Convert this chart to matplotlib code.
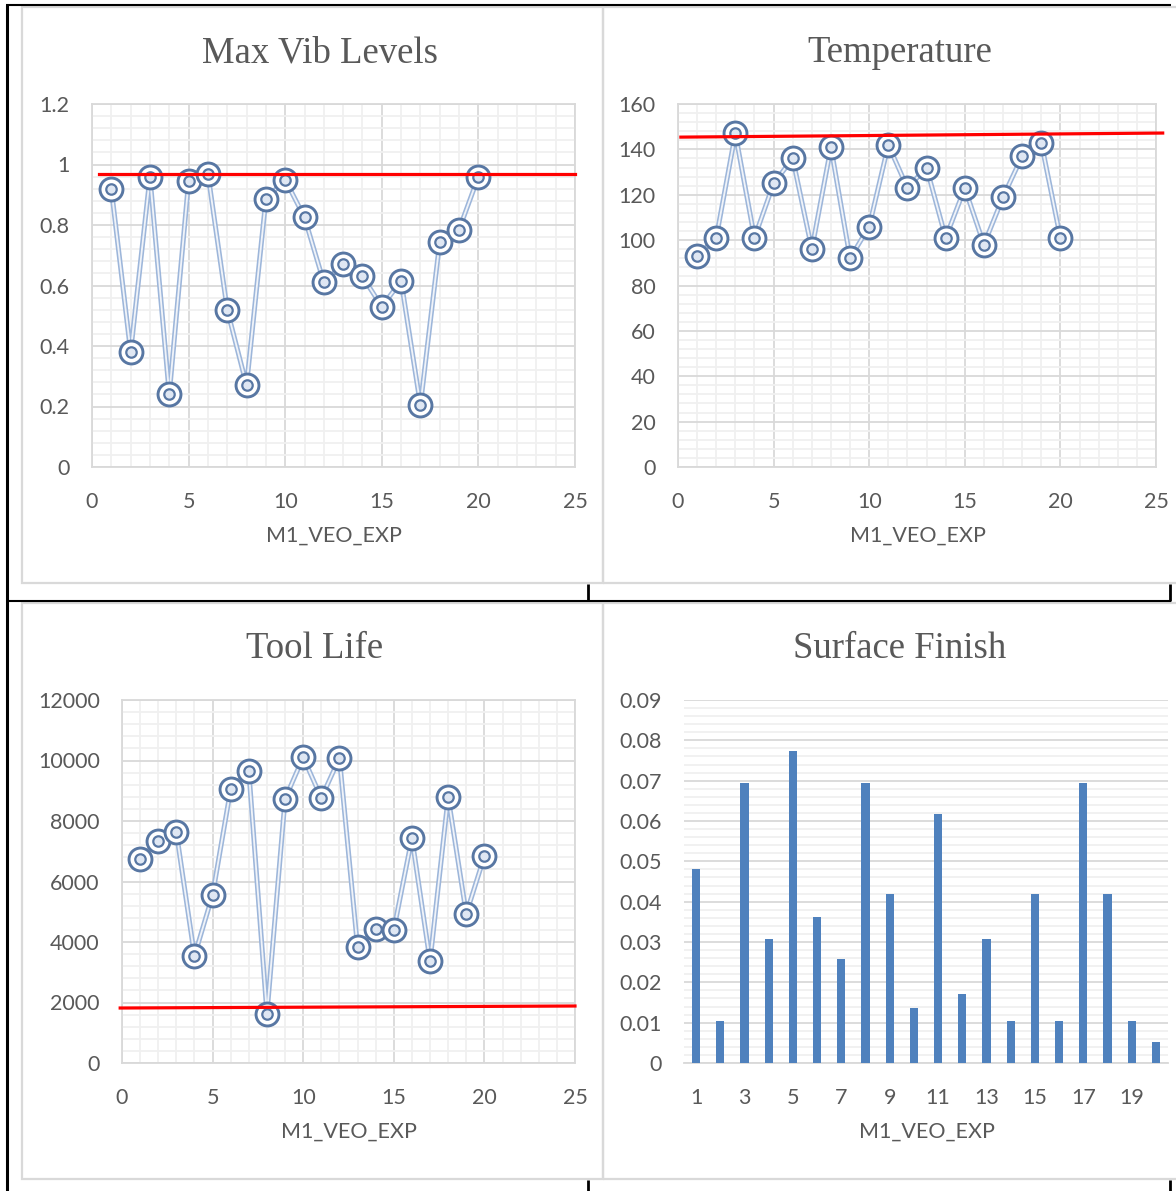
import matplotlib
matplotlib.use("Agg")
import matplotlib.pyplot as plt
from matplotlib.lines import Line2D
from matplotlib.patches import Rectangle
import numpy as np

# data
runs = list(range(1, 21))
max_vib = [0.92, 0.38, 0.96, 0.24, 0.945, 0.97, 0.52, 0.27, 0.885, 0.95,
           0.825, 0.61, 0.67, 0.63, 0.53, 0.615, 0.205, 0.745, 0.785, 0.96]
temperature = [93, 101, 147, 101, 125, 136, 96, 141, 92, 106,
               142, 123, 132, 101, 123, 98, 119, 137, 143, 101]
tool_life = [6740, 7340, 7630, 3540, 5560, 9060, 9650, 1620, 8730, 10110,
             8760, 10080, 3830, 4430, 4400, 7440, 3370, 8790, 4930, 6840]
surface_finish = [0.048, 0.0103, 0.0693, 0.0307, 0.0773, 0.0361, 0.0258, 0.0693, 0.0419, 0.0136,
                  0.0617, 0.0172, 0.0307, 0.0103, 0.0419, 0.0103, 0.0693, 0.0419, 0.0103, 0.0052]

# red limit lines (x start, x end, y start, y end)
vib_limit = (0.36, 25.0, 0.968, 0.968)
temp_limit = (0.15, 25.35, 145.4, 147.2)
life_limit = (-0.1, 25.0, 1818, 1884)

W, H = 1176, 1191
TXT = "#595959"
GRID_MAJ = "#d9d9d9"
GRID_MIN = "#f0f0f0"
LINE_C = "#9db6da"
MARK_C = "#5877a3"
BAR_C = "#4f81bd"
SANS = ["Lato", "DejaVu Sans"]
SERIF = ["Liberation Serif", "DejaVu Serif"]
TICK_FS = 15.5

fig = plt.figure(figsize=(W / 100, H / 100), dpi=100)


def px_axes(x0, y0, x1, y1):
    return fig.add_axes([x0 / W, 1 - y1 / H, (x1 - x0) / W, (y1 - y0) / H])


def fig_line(x0, y0, x1, y1, lw, color="black"):
    fig.add_artist(Line2D([x0 / W, x1 / W], [1 - y0 / H, 1 - y1 / H],
                          color=color, lw=lw, transform=fig.transFigure,
                          solid_capstyle="butt"))


def style_axes(ax, ymax, ymaj, ymin, xgrid=True):
    ax.set_facecolor("white")
    ax.set_ylim(0, ymax)
    ax.set_yticks(np.arange(0, ymax + ymaj / 2, ymaj))
    ax.set_yticks(np.arange(0, ymax + ymin / 2, ymin), minor=True)
    ax.grid(which="major", axis="y", color=GRID_MAJ, lw=1.3)
    ax.grid(which="minor", axis="y", color=GRID_MIN, lw=1.3)
    if xgrid:
        ax.set_xlim(0, 25)
        ax.set_xticks(range(0, 26, 5))
        ax.set_xticks(range(0, 26), minor=True)
        ax.grid(which="major", axis="x", color=GRID_MAJ, lw=1.3)
        ax.grid(which="minor", axis="x", color=GRID_MIN, lw=1.3)
        for s in ax.spines.values():
            s.set_color(GRID_MAJ)
            s.set_linewidth(1.3)
    ax.set_axisbelow(True)
    ax.tick_params(which="both", length=0, labelsize=TICK_FS, labelcolor=TXT)
    ax.tick_params(axis="x", pad=18)
    ax.tick_params(axis="y", pad=16)
    for lab in ax.get_xticklabels() + ax.get_yticklabels():
        lab.set_family(SANS)


def draw_series(ax, xs, ys):
    ax.plot(xs, ys, color=LINE_C, lw=3.6, zorder=3)
    ax.plot(xs, ys, color="white", lw=1.3, alpha=0.85, zorder=3)
    ax.plot(xs, ys, ls="none", marker="o", ms=16.5, mfc="white", mec=MARK_C, mew=2.1, zorder=4)
    ax.plot(xs, ys, ls="none", marker="o", ms=7.5, mfc="#dfe7f3", mec=MARK_C, mew=1.6, zorder=5)


def add_title(text, x, y):
    fig.text(x / W, 1 - y / H, text, ha="center", va="center", fontsize=26.5,
             color=TXT, family=SERIF)


def add_xlabel(text, x, y):
    fig.text(x / W, 1 - y / H, text, ha="center", va="center", fontsize=TICK_FS,
             color=TXT, family=SANS)


# panel frames
for (x0, y0, x1, y1) in [(22, 7, 603, 583), (603, 7, 1178, 583),
                         (22, 603, 603, 1179), (603, 603, 1178, 1179)]:
    fig.add_artist(Rectangle((x0 / W, 1 - y1 / H), (x1 - x0) / W, (y1 - y0) / H,
                             transform=fig.transFigure, fill=False,
                             edgecolor=GRID_MAJ, lw=1.6))

# Max Vib Levels
ax1 = px_axes(92, 104, 575, 467)
style_axes(ax1, 1.2, 0.2, 0.04)
ax1.set_yticklabels(["0", "0.2", "0.4", "0.6", "0.8", "1", "1.2"])
draw_series(ax1, runs, max_vib)
ax1.plot(vib_limit[:2], vib_limit[2:], color="red", lw=2.3, zorder=6, clip_on=False)
add_title("Max Vib Levels", 320, 53)
add_xlabel("M1_VEO_EXP", 334, 536)

# Temperature
ax2 = px_axes(678, 104, 1156, 467)
style_axes(ax2, 160, 20, 4)
draw_series(ax2, runs, temperature)
ax2.plot(temp_limit[:2], temp_limit[2:], color="red", lw=2.3, zorder=6, clip_on=False)
add_title("Temperature", 900, 53)
add_xlabel("M1_VEO_EXP", 918, 536)

# Tool Life
ax3 = px_axes(122, 700, 575, 1063)
style_axes(ax3, 12000, 2000, 400)
draw_series(ax3, runs, tool_life)
ax3.plot(life_limit[:2], life_limit[2:], color="red", lw=2.3, zorder=6, clip_on=False)
add_title("Tool Life", 315, 649)
add_xlabel("M1_VEO_EXP", 349, 1132)

# Surface Finish
ax4 = px_axes(684, 700, 1168, 1063)
style_axes(ax4, 0.09, 0.01, 0.002, xgrid=False)
ax4.set_yticklabels(["0"] + ["%.2f" % v for v in np.arange(0.01, 0.091, 0.01)])
ax4.bar(runs, surface_finish, width=0.34, color=BAR_C, zorder=3)
ax4.set_xlim(0.5, 20.5)
ax4.set_xticks(runs[::2])
for lab in ax4.get_xticklabels():
    lab.set_family(SANS)
for s in ["left", "right", "top"]:
    ax4.spines[s].set_visible(False)
ax4.spines["bottom"].set_color(GRID_MAJ)
ax4.spines["bottom"].set_linewidth(1.3)
add_title("Surface Finish", 900, 649)
add_xlabel("M1_VEO_EXP", 927, 1132)

# black table borders
fig_line(7, 5, 7, 1191, 2.2)
fig_line(6, 5, 1171, 5, 1.5)
fig_line(6, 601, 1171, 601, 1.5)
for x in (588, 1170):
    fig_line(x, 584, x, 601, 2.0)
    fig_line(x, 1180, x, 1191, 2.0)

fig.savefig("out.png", dpi=100, facecolor="white")
